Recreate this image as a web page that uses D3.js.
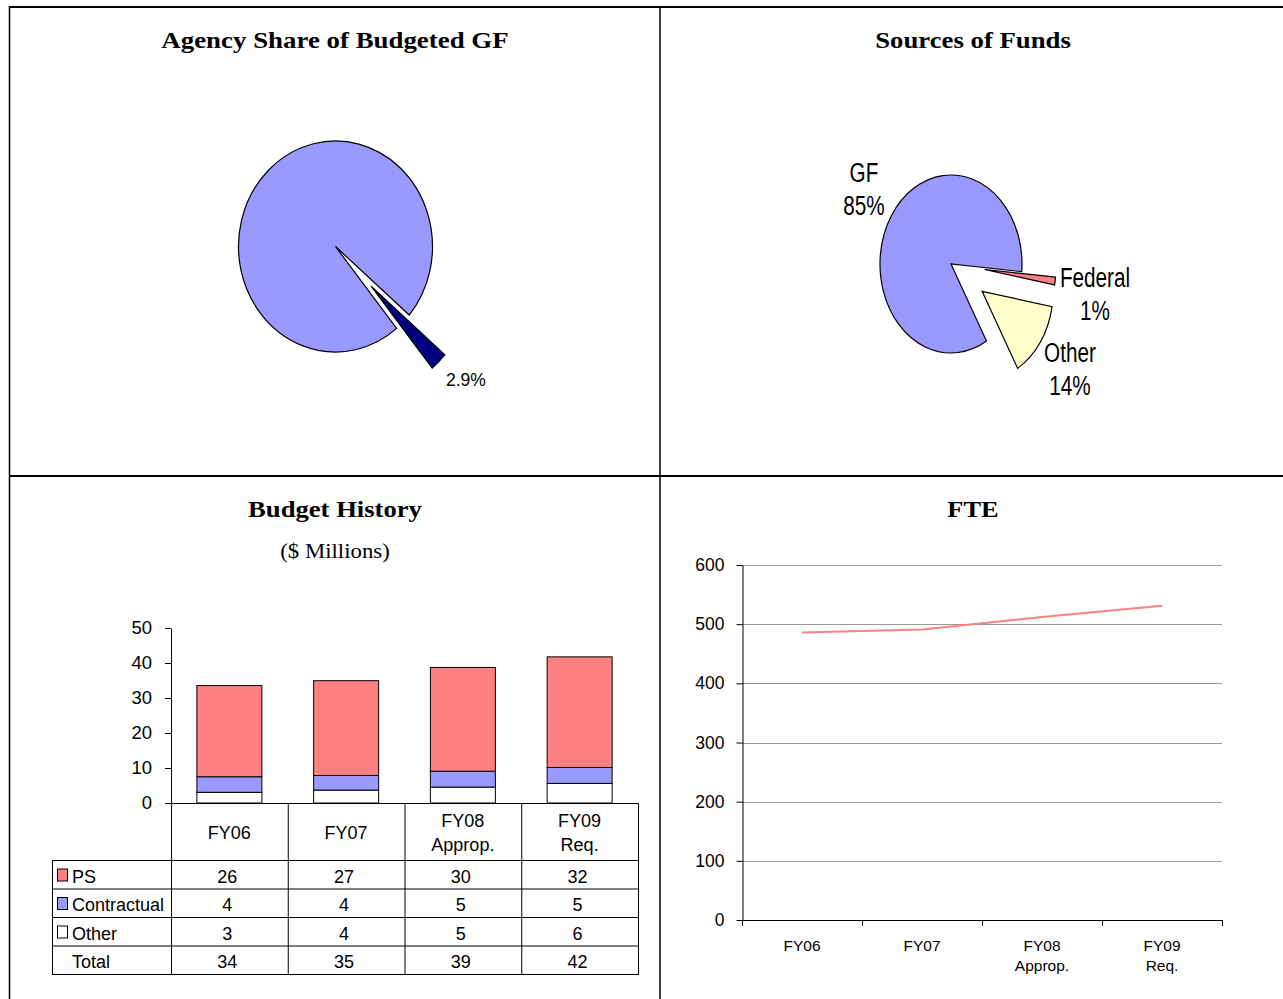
<!DOCTYPE html>
<html><head><meta charset="utf-8">
<script src="https://cdn.jsdelivr.net/npm/d3@7"></script>
<style>
html,body{margin:0;padding:0;background:#fff;}
svg{display:block;}
</style></head>
<body>
<svg id="c" width="1283" height="999"></svg>
<script>
// ---------- data ----------
const shareLabels = ["This agency", "All other agencies"];
const shareValues = [2.9, 97.1];
const shareLabelText = "2.9%";

const fundSources = ["GF", "Federal", "Other"];
const fundValues = [84.7, 1.4, 13.9];

const years = ["FY06", "FY07", "FY08 Approp.", "FY09 Req."];
const yearLines = [["FY06"], ["FY07"], ["FY08", "Approp."], ["FY09", "Req."]];
const psValues = [26.05, 27.08, 29.64, 31.6];
const contractualValues = [4.45, 4.17, 4.54, 4.55];
const otherValues = [3.05, 3.69, 4.55, 5.6];
const budgetSeries = ["PS", "Contractual", "Other"];
const budgetTicks = [0, 10, 20, 30, 40, 50];

const fteValues = [486, 491, 512, 531];
const fteTicks = [0, 100, 200, 300, 400, 500, 600];

// ---------- styles ----------
const BLUE = "#9999FF", NAVY = "#000080", SALMON = "#FF8080", CREAM = "#FFFFCC";
const SERIF = "'Liberation Serif','Times New Roman',serif";
const SANS = "'Liberation Sans',Arial,sans-serif";
const svg = d3.select("#c");

// ---------- frame ----------
const frame = svg.append("g").attr("stroke", "#000");
frame.append("line").attr("x1", 9).attr("x2", 1283).attr("y1", 7).attr("y2", 7).attr("stroke-width", 2);
frame.append("line").attr("x1", 9).attr("x2", 1283).attr("y1", 476).attr("y2", 476).attr("stroke-width", 2);
frame.append("line").attr("x1", 9.5).attr("x2", 9.5).attr("y1", 6).attr("y2", 999).attr("stroke-width", 1.5);
frame.append("line").attr("x1", 660).attr("x2", 660).attr("y1", 6).attr("y2", 999).attr("stroke-width", 1.5);

function title(x, y, t, size, bold, sx) {
  svg.append("text").attr("transform", `translate(${x},${y}) scale(${sx},1)`).attr("text-anchor", "middle")
    .attr("font-family", SERIF).attr("font-size", size).attr("font-weight", bold ? "bold" : "normal")
    .text(t);
}
title(335, 48, "Agency Share of Budgeted GF", 24, true, 1.12);
title(973, 48, "Sources of Funds", 24, true, 1.115);
title(335, 517, "Budget History", 24, true, 1.11);
title(335, 558, "($ Millions)", 20, false, 1.14);
title(973, 517, "FTE", 24, true, 1.1);

// ---------- pie helper ----------
function drawPie(cx, cy, rx, ry, values, colors, startDeg, explode) {
  const pie = d3.pie().sort(null).value(d => d)
    .startAngle(startDeg * Math.PI / 180).endAngle(startDeg * Math.PI / 180 + 2 * Math.PI);
  const arc = d3.arc().innerRadius(0).outerRadius(rx);
  const g = svg.append("g").attr("transform", `translate(${cx},${cy}) scale(1,${ry / rx})`);
  const arcs = pie(values);
  g.selectAll("path").data(arcs).join("path")
    .attr("d", arc)
    .attr("fill", (d, i) => colors[i])
    .attr("stroke", "#000").attr("stroke-width", 1.2)
    .attr("vector-effect", "non-scaling-stroke")
    .attr("stroke-linejoin", "miter")
    .attr("transform", (d, i) => {
      const m = (d.startAngle + d.endAngle) / 2, e = explode[i];
      return `translate(${e * Math.sin(m)},${-e * Math.cos(m)})`;
    });
  return arcs;
}

// Pie 1
drawPie(335.5, 246.5, 97, 105.5, shareValues, [NAVY, BLUE], 130.5, [51, 0]);
svg.append("text").attr("x", 446).attr("y", 386).attr("font-family", SANS).attr("font-size", 17.5)
  .text(shareLabelText);

// Pie 2
drawPie(951, 264, 71, 89, fundValues, [BLUE, SALMON, CREAM], 150, [0, 34, 38]);
const fundLabelPos = [[864, 182], [1095, 287], [1070, 362]];
fundSources.forEach((s, i) => {
  const total = d3.sum(fundValues);
  const [x, y] = fundLabelPos[i];
  const t = svg.append("text").attr("transform", `translate(${x},${y}) scale(0.74,1)`)
    .attr("text-anchor", "middle").attr("font-family", SANS).attr("font-size", 28);
  t.append("tspan").attr("x", 0).attr("y", 0).text(s);
  t.append("tspan").attr("x", 0).attr("y", 33).text(Math.round(fundValues[i] / total * 100) + "%");
});

// ---------- Budget history ----------
const bx = d3.scaleBand().domain(years).range([171, 638]).padding(0);
const by = d3.scaleLinear().domain([0, 50]).range([803, 628]);
const stackData = years.map((y, i) => ({ year: y, Other: otherValues[i], Contractual: contractualValues[i], PS: psValues[i] }));
const stack = d3.stack().keys(["Other", "Contractual", "PS"])(stackData);
const barColors = { PS: SALMON, Contractual: BLUE, Other: "#FFFFFF" };
const barW = 65;
const bars = svg.append("g");
stack.forEach(layer => {
  bars.append("g").attr("fill", barColors[layer.key]).attr("stroke", "#000").attr("stroke-width", 1)
    .selectAll("rect").data(layer).join("rect")
    .attr("x", d => bx(d.data.year) + bx.bandwidth() / 2 - barW / 2)
    .attr("width", barW)
    .attr("y", d => by(d[1]))
    .attr("height", d => by(d[0]) - by(d[1]));
});
const byAxis = svg.append("g").attr("transform", "translate(171,0)")
  .call(d3.axisLeft(by).tickValues(budgetTicks).tickSize(6).tickSizeOuter(0).tickPadding(13));
byAxis.select(".domain").attr("stroke", "#000");
byAxis.selectAll("text").attr("font-family", SANS).attr("font-size", 18.5).attr("fill", "#000");

// table
const T = svg.append("g").attr("stroke", "#000").attr("stroke-width", 1);
const tableRows = [860.5, 889, 917.5, 946, 974.5];
T.append("line").attr("x1", 171).attr("x2", 638).attr("y1", 803.5).attr("y2", 803.5);
tableRows.forEach(y => T.append("line").attr("x1", 52).attr("x2", 638).attr("y1", y).attr("y2", y));
T.append("line").attr("x1", 52.5).attr("x2", 52.5).attr("y1", 860).attr("y2", 975);
const colEdges = years.map(y => bx(y)).concat([bx.range()[1]]);
colEdges.forEach(x => T.append("line").attr("x1", x + 0.5).attr("x2", x + 0.5).attr("y1", 803).attr("y2", 975));

const txt = svg.append("g").attr("font-family", SANS).attr("font-size", 18).attr("fill", "#000");
years.forEach((y, i) => {
  const cx = bx(y) + bx.bandwidth() / 2;
  const lines = yearLines[i];
  lines.forEach((l, j) => {
    const yy = lines.length === 1 ? 839 : 827 + j * 24;
    txt.append("text").attr("x", cx).attr("y", yy).attr("text-anchor", "middle").text(l);
  });
});
const rowSeries = [psValues, contractualValues, otherValues];
const fmt = d3.format(".0f");
budgetSeries.forEach((s, r) => {
  const yy = tableRows[r] + 22;
  svg.append("rect").attr("x", 57.5).attr("y", yy - 13.5).attr("width", 10).attr("height", 12)
    .attr("fill", barColors[s]).attr("stroke", "#000").attr("stroke-width", 1);
  txt.append("text").attr("x", 72).attr("y", yy).text(s);
  years.forEach((y, i) => {
    txt.append("text").attr("x", bx(y) + bx.bandwidth() / 2 - 2).attr("y", yy).attr("text-anchor", "middle")
      .text(fmt(rowSeries[r][i]));
  });
});
txt.append("text").attr("x", 72).attr("y", tableRows[3] + 22).text("Total");
years.forEach((y, i) => {
  txt.append("text").attr("x", bx(y) + bx.bandwidth() / 2 - 2).attr("y", tableRows[3] + 22).attr("text-anchor", "middle")
    .text(fmt(psValues[i] + contractualValues[i] + otherValues[i]));
});

// ---------- FTE ----------
const fx = d3.scaleBand().domain(years).range([742, 1222]).padding(0);
const fy = d3.scaleLinear().domain([0, 600]).range([920, 565]);
const grid = svg.append("g").attr("stroke", "#999").attr("stroke-width", 1);
fteTicks.filter(t => t > 0).forEach(t => grid.append("line").attr("x1", 742).attr("x2", 1222)
  .attr("y1", Math.round(fy(t)) + 0.5).attr("y2", Math.round(fy(t)) + 0.5));
const fyAxis = svg.append("g").attr("transform", "translate(742.5,0)")
  .call(d3.axisLeft(fy).tickValues(fteTicks).tickSize(6).tickSizeOuter(0).tickPadding(12));
fyAxis.selectAll("text").attr("font-family", SANS).attr("font-size", 17.5).attr("fill", "#000");
// x axis
const xa = svg.append("g").attr("stroke", "#000").attr("stroke-width", 1);
xa.append("line").attr("x1", 742).attr("x2", 1222.5).attr("y1", 920.5).attr("y2", 920.5);
years.map(y => fx(y)).concat([fx.range()[1]]).forEach(x =>
  xa.append("line").attr("x1", x + 0.5).attr("x2", x + 0.5).attr("y1", 920).attr("y2", 926));
const xt = svg.append("g").attr("font-family", SANS).attr("font-size", 15.5).attr("fill", "#000").attr("text-anchor", "middle");
years.forEach((y, i) => {
  yearLines[i].forEach((l, j) => xt.append("text").attr("x", fx(y) + fx.bandwidth() / 2).attr("y", 951 + j * 20).text(l));
});
svg.append("path")
  .datum(fteValues)
  .attr("fill", "none").attr("stroke", SALMON).attr("stroke-width", 2)
  .attr("d", d3.line().x((d, i) => fx(years[i]) + fx.bandwidth() / 2).y(d => fy(d)));
</script>
</body></html>
